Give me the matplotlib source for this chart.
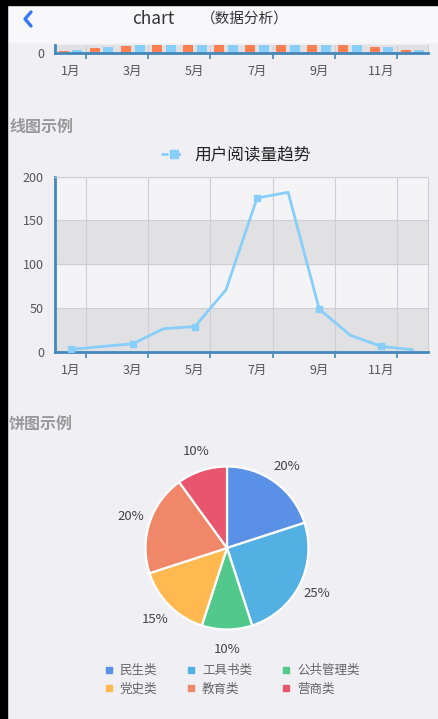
import matplotlib
matplotlib.use('Agg')
import matplotlib.pyplot as plt
from matplotlib.lines import Line2D
from matplotlib.patches import Rectangle

plt.rcParams['font.family'] = ['Noto Sans CJK SC', 'DejaVu Sans']

# data
months = ['1月', '2月', '3月', '4月', '5月', '6月', '7月', '8月', '9月', '10月', '11月', '12月']
evaporation = [2.0, 4.9, 7.0, 23.2, 25.6, 76.7, 135.6, 162.2, 32.6, 20.0, 6.4, 3.3]
reads = [2.6, 5.9, 9.0, 26.4, 28.7, 70.7, 175.6, 182.2, 48.7, 18.8, 6.0, 2.3]
line_name = '用户阅读量趋势'
pie_names = ['民生类', '工具书类', '公共管理类', '党史类', '教育类', '营商类']
pie_values = [20, 25, 10, 15, 20, 10]
pie_colors = ['#5a91e6', '#52b0e2', '#52c88c', '#ffb950', '#f08769', '#e8566e']

W, H = 439, 719
PAGE = '#efeff4'
AXIS_BLUE = '#4488bb'
GRID = '#cfcfd3'
BAND_DARK = '#e1e1e4'
BAND_LIGHT = '#f4f4f7'
LABEL = '#555555'

fig = plt.figure(figsize=(W / 100, H / 100), dpi=100)
fig.patch.set_facecolor(PAGE)


def px_axes(x0, y0, x1, y1, **kw):
    return fig.add_axes([x0 / W, 1 - y1 / H, (x1 - x0) / W, (y1 - y0) / H], **kw)


# page background, header and frame
bg = px_axes(0, 0, W, H, zorder=0)
bg.set_xlim(0, W)
bg.set_ylim(H, 0)
bg.axis('off')
bg.add_patch(Rectangle((0, 0), W, 42, color='#f8f8fa', zorder=1))
bg.add_patch(Rectangle((0, 0), W, 5, color='black', zorder=3))
bg.add_patch(Rectangle((0, 0), 7, H, color='black', zorder=3))
bg.plot([31, 25, 31], [12, 19, 26], color='#3478f6', lw=2.4, solid_capstyle='round', zorder=2)
bg.text(153, 19, 'chart', ha='center', va='center', fontsize=12.5, color='#333333', zorder=2)
bg.text(201, 19, '（数据分析）', ha='left', va='center', fontsize=10.5, color='#333333', zorder=2)
bg.text(9, 127, '线图示例', ha='left', va='center', fontsize=11.5, color='#999999',
        fontweight='bold', zorder=2)
bg.text(9, 424, '饼图示例', ha='left', va='center', fontsize=11.5, color='#999999',
        fontweight='bold', zorder=2)

x = list(range(len(months)))
bounds = [i + 0.5 for i in range(0, 12, 2)]


def style_cat_axis(ax):
    ax.set_xlim(-0.5, len(months) - 0.5)
    ax.set_xticks(x[::2])
    ax.set_xticklabels(months[::2])
    ax.set_xticks(bounds, minor=True)
    ax.tick_params(axis='x', which='major', length=0, pad=9, labelsize=9, labelcolor=LABEL)
    ax.tick_params(axis='x', which='minor', length=4, width=1.2, color=AXIS_BLUE)
    ax.tick_params(axis='y', length=0, pad=8, labelsize=9, labelcolor=LABEL)
    ax.grid(which='minor', axis='x', color=GRID, lw=0.8)
    ax.set_axisbelow(True)
    for s in ['left', 'bottom']:
        ax.spines[s].set_color(AXIS_BLUE)
        ax.spines[s].set_linewidth(2)
    for s in ['top', 'right']:
        ax.spines[s].set_color(GRID)
        ax.spines[s].set_linewidth(0.8)


# bar chart (scrolled, only its bottom is visible)
bar_ax = px_axes(55, 45, 428, 52.5)
bar_ax.set_facecolor(BAND_DARK)
bw = 0.32
bar_ax.bar([i - 0.22 for i in x], evaporation, width=bw, color='#ff7f50', zorder=2)
bar_ax.bar([i + 0.22 for i in x], reads, width=bw, color='#87cefa', zorder=2)
bar_ax.set_ylim(0, 8.5)
bar_ax.set_yticks([0])
style_cat_axis(bar_ax)
bar_ax.spines['top'].set_visible(False)

# line chart
line_ax = px_axes(55, 176.7, 428, 351.7)
line_ax.set_facecolor(BAND_LIGHT)
for lo in range(0, 200, 50):
    line_ax.axhspan(lo, lo + 50, color=BAND_DARK if (lo // 50) % 2 == 0 else BAND_LIGHT, lw=0, zorder=0)
line_ax.plot(x, reads, color='#87cefa', lw=2, marker='s', markersize=5, markevery=2,
             label=line_name, zorder=3)
line_ax.set_ylim(0, 200)
line_ax.set_yticks([0, 50, 100, 150, 200])
style_cat_axis(line_ax)
line_ax.grid(which='major', axis='y', color=GRID, lw=0.8)
fig.legend(handles=[Line2D([], [], color='#87cefa', lw=2, ls=(0, (2.5, 2)), marker='s', markersize=6)],
           labels=[line_name], loc='center', bbox_to_anchor=(236 / W, 1 - 155 / H),
           frameon=False, prop=dict(size=12, weight='medium'), handlelength=1.5,
           handletextpad=0.5, labelcolor='#222222')

# pie chart
r = 81.5
cx, cy = 227, 548
pie_ax = px_axes(cx - 1.5 * r, cy - 1.5 * r, cx + 1.5 * r, cy + 1.5 * r)
wedges, texts, autotexts = pie_ax.pie(
    pie_values, colors=pie_colors, startangle=90, counterclock=False,
    autopct='%.0f%%', pctdistance=1.24,
    wedgeprops=dict(edgecolor='white', linewidth=1.6),
    textprops=dict(fontsize=9.5, color='#444444'))
pie_ax.set_xlim(-1.5, 1.5)
pie_ax.set_ylim(-1.5, 1.5)
pie_ax.set_aspect('equal')
pie_ax.axis('off')

order = [0, 3, 1, 4, 2, 5]
handles = [Line2D([], [], ls='none', marker='s', markersize=5, color=pie_colors[i]) for i in order]
fig.legend(handles=handles, labels=[pie_names[i] for i in order], ncol=3,
           loc='center', bbox_to_anchor=(232 / W, 1 - 680 / H), frameon=False,
           fontsize=9, labelcolor='#666666', handlelength=0.7, handletextpad=0.5,
           columnspacing=2.4, labelspacing=0.45)

fig.savefig('out.png', dpi=100, facecolor=PAGE)
